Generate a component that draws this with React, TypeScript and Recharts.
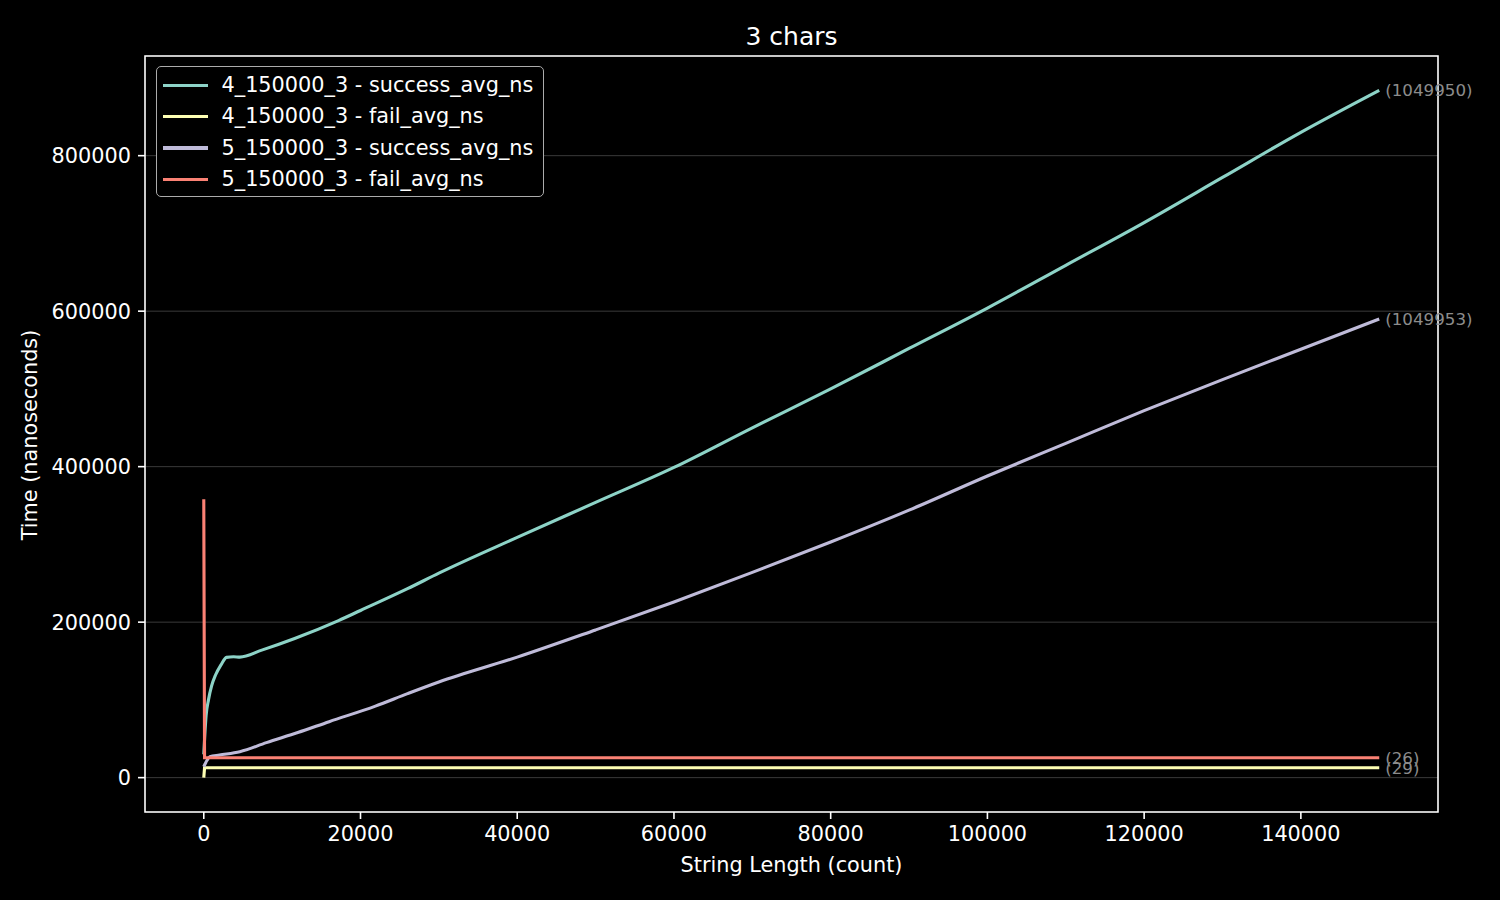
import React from 'react';
import {
    LineChart,
    Line,
    XAxis,
    YAxis,
    CartesianGrid,
    ReferenceArea,
    LabelList
} from 'recharts';

const FONT = '"DejaVu Sans", "Noto Sans", sans-serif';

// axis ticks
const xTicks = [0, 20000, 40000, 60000, 80000, 100000, 120000, 140000];
const yTicks = [0, 200000, 400000, 600000, 800000];
const xDomain = [-7500, 157500];
const yDomain = [-44200, 928200];

// 4_150000_3 - success_avg_ns
const s4SuccessX = [0, 300, 600, 1000, 1500, 2200, 2900, 3800, 4600, 7400, 11600, 17200, 20000, 26000, 30000, 40000, 50000, 60000, 70000, 80000, 90000, 100000, 110000, 120000, 130000, 140000, 150000];
const s4SuccessY = [30000, 80000, 100000, 118000, 132000, 145000, 154700, 155500, 155000, 164000, 179000, 202000, 215000, 243000, 263000, 309000, 354000, 399000, 450000, 500000, 552000, 604000, 659000, 714000, 772000, 830000, 884000];

// 4_150000_3 - fail_avg_ns
const s4FailX = [0, 100, 150000];
const s4FailY = [0, 12700, 12700];

// 5_150000_3 - success_avg_ns
const s5SuccessX = [0, 400, 770, 2000, 4600, 8000, 12000, 16000, 21900, 26000, 30000, 40000, 50000, 60000, 70000, 80000, 90000, 100000, 110000, 120000, 130000, 140000, 150000];
const s5SuccessY = [14000, 22000, 26900, 29000, 33300, 45000, 58000, 72000, 92000, 108000, 123000, 155000, 190000, 226000, 264000, 303000, 344000, 388000, 430000, 472000, 512000, 551000, 590000];

// 5_150000_3 - fail_avg_ns
const s5FailX = [0, 100, 150000];
const s5FailY = [358000, 25600, 25600];

const seriesNames = [
    '4_150000_3 - success_avg_ns',
    '4_150000_3 - fail_avg_ns',
    '5_150000_3 - success_avg_ns',
    '5_150000_3 - fail_avg_ns'
];
const seriesColors = ['#8dd3c7', '#feffb3', '#bfbbd9', '#fa8174'];
const endLabels = ['(1049950)', '(29)', '(1049953)', '(26)'];

const zip = (xs: number[], ys: number[]) => xs.map((x, i) => ({ x, y: ys[i] }));

const series = [
    { data: zip(s4SuccessX, s4SuccessY), curve: 'monotone' },
    { data: zip(s4FailX, s4FailY), curve: 'linear' },
    { data: zip(s5SuccessX, s5SuccessY), curve: 'monotone' },
    { data: zip(s5FailX, s5FailY), curve: 'linear' }
].map((s, i) => ({ ...s, name: seriesNames[i], color: seriesColors[i], end: endLabels[i] }));

const tickStyle = { fill: '#ffffff', fontSize: 20.8, fontFamily: FONT };

export default function App() {
    return (
        <div style={{ position: 'absolute', left: 0, top: 0, width: 1500, height: 900, background: '#000', fontFamily: FONT }}>
            <LineChart width={1500} height={900} margin={{ top: 56, right: 62, bottom: 0, left: 0 }}>
                <CartesianGrid vertical={false} stroke="#3a3a3a" strokeWidth={1} />
                <XAxis
                    type="number"
                    dataKey="x"
                    domain={xDomain}
                    ticks={xTicks}
                    allowDataOverflow
                    interval={0}
                    height={88}
                    axisLine={false}
                    tickLine={{ stroke: '#ffffff', strokeWidth: 1.6 }}
                    tickSize={7}
                    tickMargin={7}
                    tick={tickStyle}
                    label={() => (
                        <text x={791.5} y={872} textAnchor="middle" fill="#fff" fontSize={20.8} fontFamily={FONT}>
                            String Length (count)
                        </text>
                    )}
                />
                <YAxis
                    type="number"
                    dataKey="y"
                    domain={yDomain}
                    ticks={yTicks}
                    allowDataOverflow
                    interval={0}
                    width={145}
                    axisLine={false}
                    tickLine={{ stroke: '#ffffff', strokeWidth: 1.6 }}
                    tickSize={7}
                    tickMargin={7}
                    tick={tickStyle}
                    label={() => (
                        <text x={37} y={435} transform="rotate(-90 37 435)" textAnchor="middle" fill="#fff" fontSize={20.8} fontFamily={FONT}>
                            Time (nanoseconds)
                        </text>
                    )}
                />
                <ReferenceArea
                    x1={xDomain[0]}
                    x2={xDomain[1]}
                    y1={yDomain[0]}
                    y2={yDomain[1]}
                    fill="none"
                    stroke="#ffffff"
                    strokeWidth={1.6}
                    ifOverflow="visible"
                />
                {series.map((s) => (
                    <Line
                        key={s.name}
                        data={s.data}
                        dataKey="y"
                        name={s.name}
                        type={s.curve as any}
                        stroke={s.color}
                        strokeWidth={3.1}
                        dot={false}
                        activeDot={false}
                        isAnimationActive={false}
                    >
                        <LabelList
                            dataKey="y"
                            content={(p: any) =>
                                p.index === s.data.length - 1 ? (
                                    <text
                                        x={Number(p.x) + 6}
                                        y={Number(p.y)}
                                        dominantBaseline="central"
                                        fill="#8c8c8c"
                                        fontSize={16.7}
                                        fontFamily={FONT}
                                    >
                                        {s.end}
                                    </text>
                                ) : null
                            }
                        />
                    </Line>
                ))}
            </LineChart>

            {/* title */}
            <svg width={1500} height={60} style={{ position: 'absolute', left: 0, top: 0, pointerEvents: 'none' }}>
                <text x={791.5} y={44.5} textAnchor="middle" fill="#fff" fontSize={25} fontFamily={FONT}>
                    3 chars
                </text>
            </svg>

            {/* legend */}
            <div
                style={{
                    position: 'absolute',
                    left: 156,
                    top: 66,
                    width: 388,
                    height: 131,
                    boxSizing: 'border-box',
                    border: '1.6px solid #ababab',
                    borderRadius: 5,
                    background: '#000',
                    paddingTop: 2.5
                }}
            >
                {series.map((s) => (
                    <div key={s.name} style={{ display: 'flex', alignItems: 'center', height: 31.4 }}>
                        <div style={{ marginLeft: 5.5, width: 45, height: 3.1, background: s.color }} />
                        <span style={{ marginLeft: 14, color: '#fff', fontSize: 20.8, lineHeight: 1, whiteSpace: 'nowrap' }}>
                            {s.name}
                        </span>
                    </div>
                ))}
            </div>
        </div>
    );
}
